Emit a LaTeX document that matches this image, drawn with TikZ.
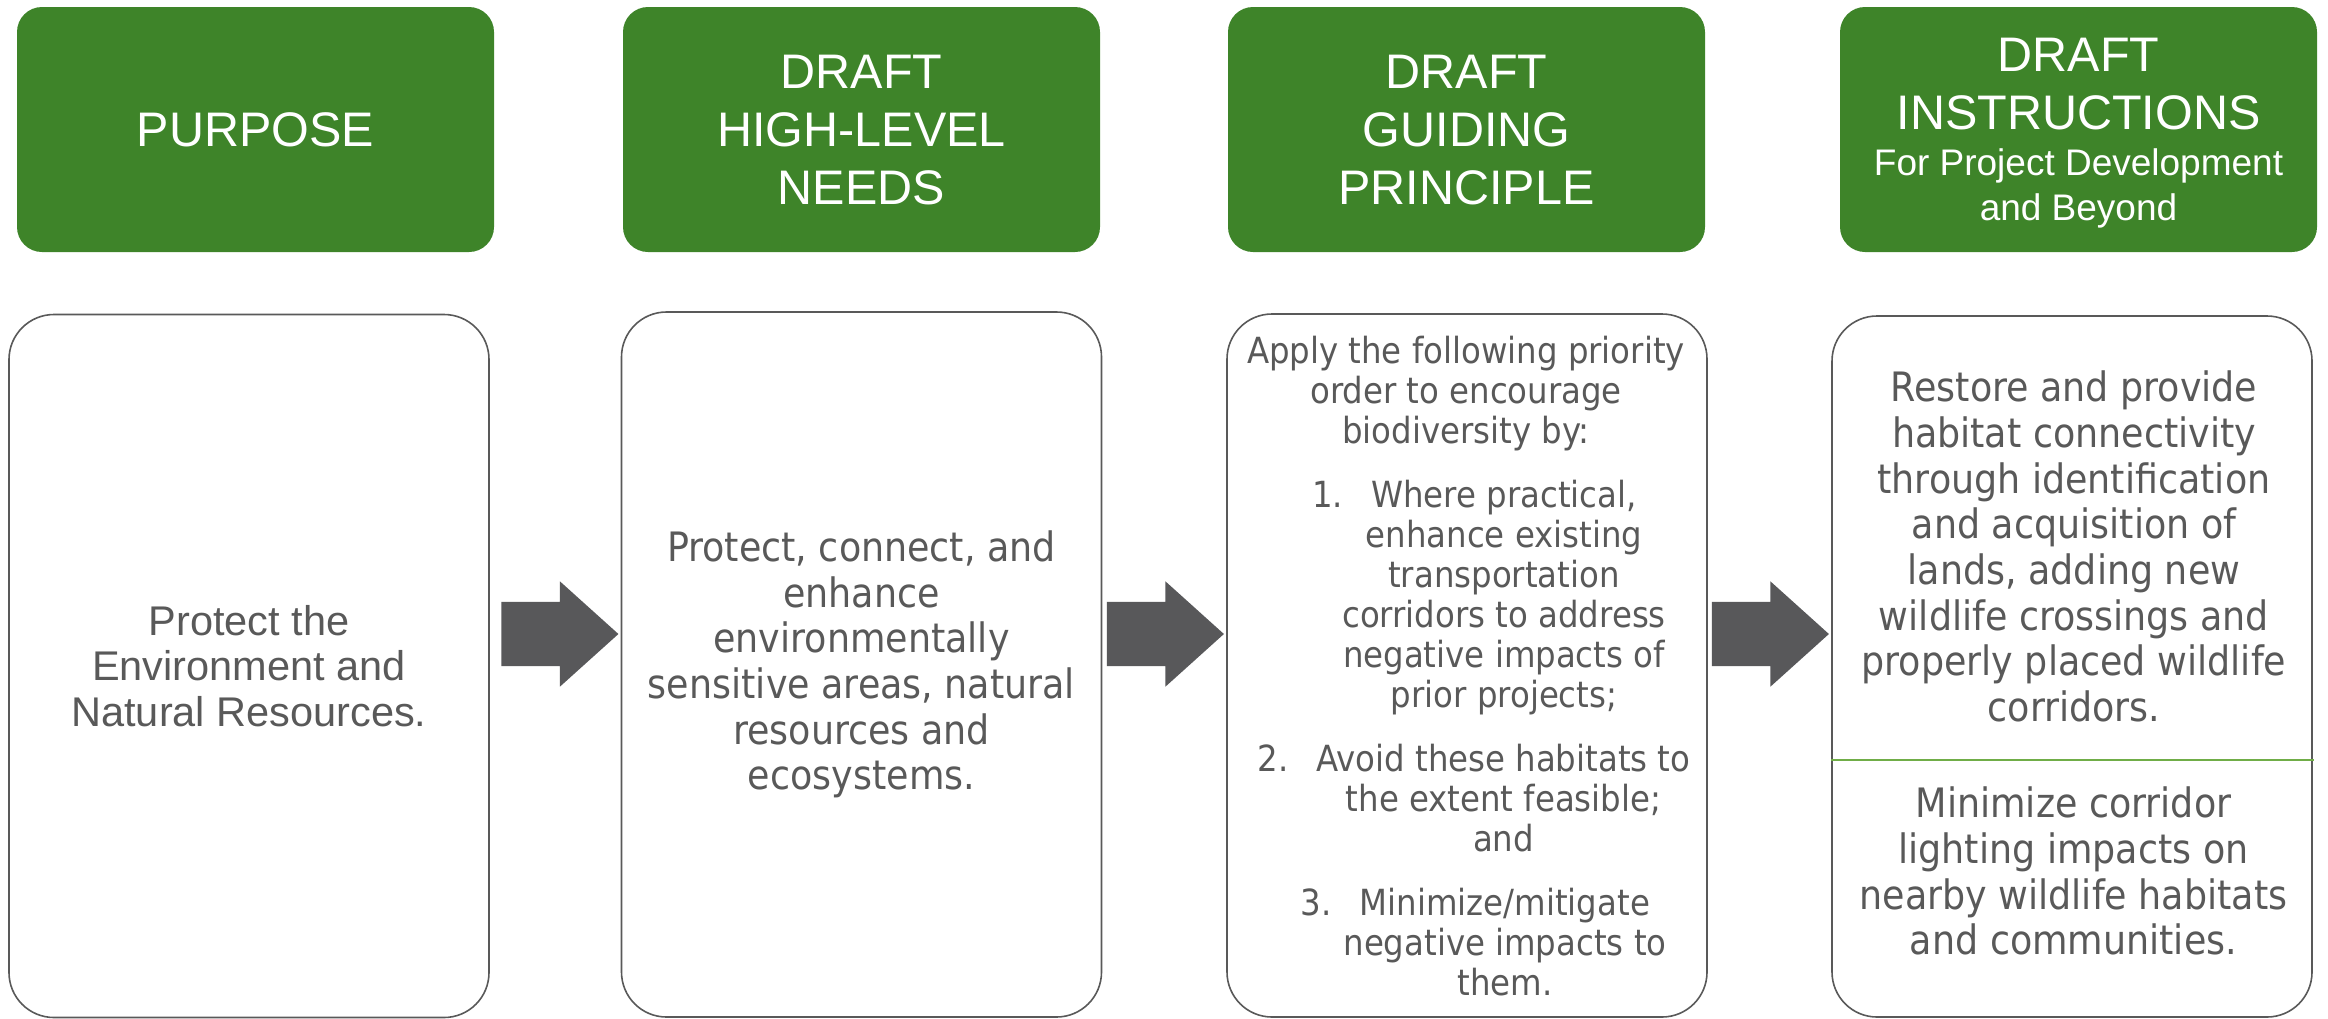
\documentclass[tikz,border=0pt]{standalone}
\usepackage{fontspec}
\setmainfont{Liberation Sans}
\newfontfamily\tahoma{DejaVu Sans Condensed}
\usetikzlibrary{shapes.arrows, positioning}
\definecolor{hijau}{RGB}{62,132,41}
\definecolor{hijaumuda}{RGB}{112,173,71}
\definecolor{abu}{RGB}{89,89,89}
\definecolor{abupanah}{RGB}{88,88,90}
\newcommand\subjudul{\fontsize{37}{44}\selectfont}
\newcommand\nomor[1]{\llap{\makebox[59pt][l]{#1}}}
\tikzstyle{judul} = [rectangle, rounded corners=25, fill=hijau, text=white, minimum width=477, minimum height=245, align=center, inner sep=0, text depth=0pt, font=\fontsize{48.5}{58}\selectfont]
\tikzstyle{kotak} = [rectangle, rounded corners=45, draw=abu, line width=1.6, minimum width=480, minimum height=703, align=center, inner sep=0, text=abu]
\tikzstyle{isi} = [align=center, inner sep=0, text=abu, font=\tahoma\fontsize{40.5}{45.7}\selectfont]
\tikzstyle{isikecil} = [isi, font=\tahoma\fontsize{36}{40}\selectfont]
\tikzstyle{panah} = [single arrow, fill=abupanah, minimum width=105, minimum height=117, single arrow head extend=20.5, single arrow tip angle=84, inner xsep=0, inner ysep=32, anchor=tip]

\begin{document}
\begin{tikzpicture}[x=1pt, y=-1pt]
  \useasboundingbox (0,0) rectangle (2328,1018);

  % Kotak judul
  \foreach \x/\nama/\teks in {255.5/h1/{PURPOSE}, 861.5/h2/{DRAFT\\HIGH-LEVEL\\NEEDS}, 1466.5/h3/{DRAFT\\GUIDING\\PRINCIPLE}} {
    \node[judul] (\nama) at (\x,129.5) {\teks};
  }
  \node[judul] (h4) at (2078.5,129.5) {DRAFT\\INSTRUCTIONS\\[-12pt]\subjudul For Project Development\\[-13.5pt]\subjudul and Beyond};

  % Kotak isi
  \node[kotak, font=\fontsize{41.5}{45.5}\selectfont] (b1) at (249,666) {Protect the\\Environment and\\Natural Resources.};
  \node[kotak, minimum height=705, font=\tahoma\fontsize{40.5}{45.7}\selectfont] (b2) at (861.5,664.5) {Protect, connect, and\\enhance\\environmentally\\sensitive areas, natural\\resources and\\ecosystems.};
  \node[kotak] (b3) at (1467,665.5) {};
  \node[kotak, minimum height=701] (b4) at (2072,666.5) {};

  % Urutan prioritas
  \node[isikecil] (b3a) at (1466,394) {Apply the following priority\\order to encourage\\biodiversity by:};
  \node[isikecil] (b3b) at (1504,598) {\nomor{1.}Where practical,\\enhance existing\\transportation\\corridors to address\\negative impacts of\\prior projects;};
  \node[isikecil] (b3c) at (1503.5,798) {\nomor{2.}Avoid these habitats to\\the extent feasible;\\and};
  \node[isikecil] (b3d) at (1505,942.5) {\nomor{3.}Minimize/mitigate\\negative impacts to\\them.};

  % Instruksi
  \node[isi] (b4a) at (2074,546.5) {Restore and provide\\habitat connectivity\\through identification\\and acquisition of\\lands, adding new\\wildlife crossings and\\properly placed wildlife\\corridors.};
  \node[isi] (b4b) at (2073.5,871.3) {Minimize corridor\\lighting impacts on\\nearby wildlife habitats\\and communities.};
  \coordinate (sekat) at (0,760);
  \draw[hijaumuda, line width=1.5] (b4.west |- sekat) -- ++(483,0) coordinate (sekatujung);

  % Panah antar kotak
  \coordinate (garis) at (0,634);
  \foreach \a/\b in {b1/b2, b2/b3, b3/b4} {
    \node[panah, xshift=-2] (p\a) at (\b.west |- garis) {};
  }
\end{tikzpicture}
\end{document}
